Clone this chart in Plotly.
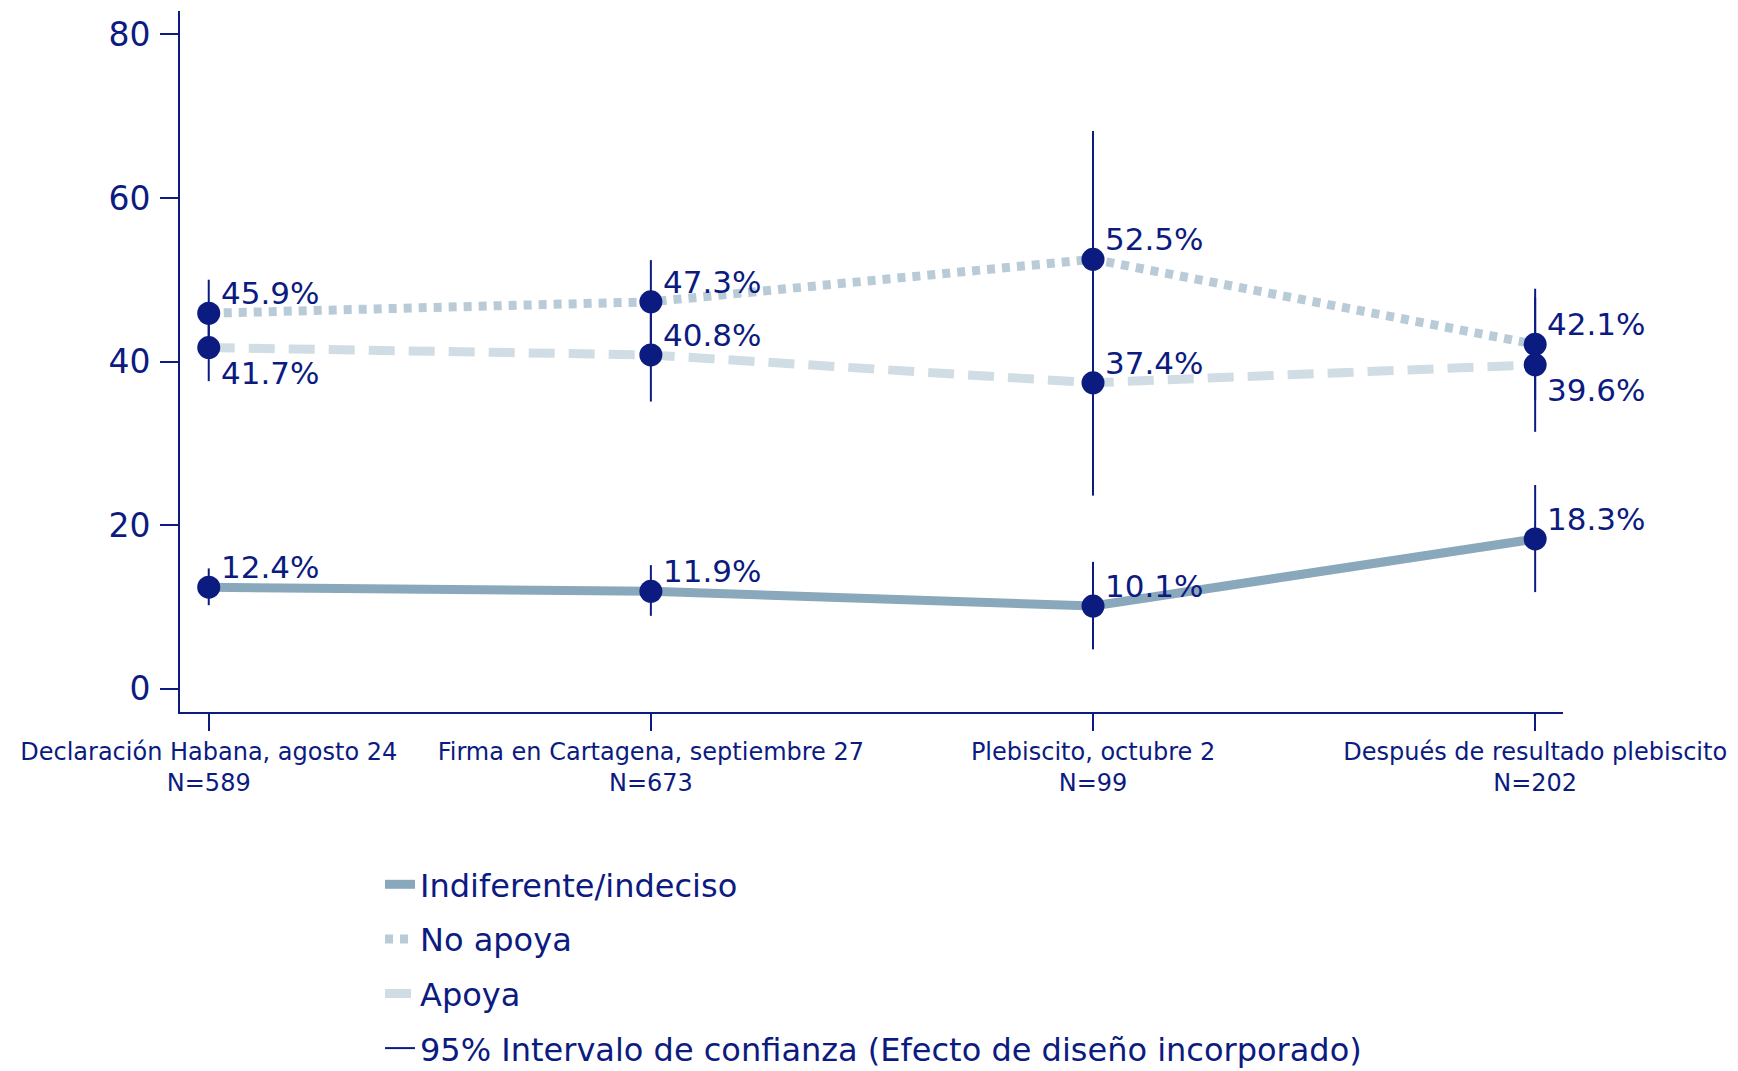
import plotly.graph_objects as go

# ---------------- data ----------------
categories = [
    "Declaración Habana, agosto 24",
    "Firma en Cartagena, septiembre 27",
    "Plebiscito, octubre 2",
    "Después de resultado plebiscito",
]
sample_sizes = [589, 673, 99, 202]

indiferente = [12.4, 11.9, 10.1, 18.3]
indiferente_lo = [10.2, 8.9, 4.8, 11.8]
indiferente_hi = [14.7, 15.1, 15.5, 24.9]

no_apoya = [45.9, 47.3, 52.5, 42.1]
no_apoya_lo = [41.8, 42.2, 36.8, 35.3]
no_apoya_hi = [50.0, 52.4, 68.2, 48.9]

apoya = [41.7, 40.8, 37.4, 39.6]
apoya_lo = [37.6, 35.1, 23.6, 31.4]
apoya_hi = [45.8, 46.5, 51.2, 47.8]

y_ticks = [0, 20, 40, 60, 80]

series_names = ["Indiferente/indeciso", "No apoya", "Apoya"]
ci_name = "95% Intervalo de confianza (Efecto de diseño incorporado)"

# ---------------- style ----------------
NAVY = "#0b1b80"
FONT = "DejaVu Sans"
W, H = 1730, 1063   # page body has an 8px margin

x_pos = list(range(len(categories)))
tick_text = [f"{c}<br>N={n}" for c, n in zip(categories, sample_sizes)]

fig = go.Figure()

line_styles = [
    dict(color="#8aa8bb", width=9, dash="solid"),
    dict(color="#b9cbd7", width=9, dash="8px,7px"),
    dict(color="#d0dde5", width=9, dash="26px,14px"),
]
values = [indiferente, no_apoya, apoya]

for name, vals, ls in zip(series_names, values, line_styles):
    fig.add_trace(go.Scatter(
        x=x_pos, y=vals, mode="lines", name=name, line=ls,
        legendgroup=name, hoverinfo="skip",
    ))

# confidence intervals (vertical segments)
ci_x, ci_y = [], []
for lo_arr, hi_arr in [(indiferente_lo, indiferente_hi), (no_apoya_lo, no_apoya_hi), (apoya_lo, apoya_hi)]:
    for xi, lo, hi in zip(x_pos, lo_arr, hi_arr):
        ci_x += [xi, xi, None]
        ci_y += [lo, hi, None]
fig.add_trace(go.Scatter(
    x=ci_x, y=ci_y, mode="lines", name=ci_name,
    line=dict(color=NAVY, width=2), legendgroup="ci", hoverinfo="skip",
))

# markers
for vals in values:
    fig.add_trace(go.Scatter(
        x=x_pos, y=vals, mode="markers", showlegend=False,
        marker=dict(color=NAVY, size=23, line=dict(width=0)),
    ))

# value labels
annotations = []
for s, vals in enumerate(values):
    for i, v in enumerate(vals):
        below = (s == 2) and (no_apoya[i] - apoya[i] < 5)
        annotations.append(dict(
            x=x_pos[i], y=v, xref="x", yref="y", text=f"{v:.1f}%",
            showarrow=False, xanchor="left", yanchor="middle",
            xshift=10, yshift=(-25 if below else 20),
            font=dict(family=FONT, size=31, color=NAVY),
        ))

fig.update_layout(
    width=W, height=H,
    paper_bgcolor="white", plot_bgcolor="white",
    margin=dict(l=172, r=175, t=3, b=359, autoexpand=False),
    font=dict(family=FONT, color=NAVY),
    annotations=annotations,
    showlegend=True,
    legend=dict(
        xref="container", yref="container",
        x=372 / W, y=1 - 849 / H, xanchor="left", yanchor="top",
        font=dict(family=FONT, size=32, color=NAVY),
        traceorder="grouped", tracegroupgap=10,
        bgcolor="rgba(0,0,0,0)", borderwidth=0,
    ),
    xaxis=dict(
        range=[-0.065, 3.063], tickvals=x_pos, ticktext=tick_text,
        showline=True, linecolor=NAVY, linewidth=2,
        ticks="outside", ticklen=17, tickwidth=2, tickcolor=NAVY,
        showgrid=False, zeroline=False,
        tickfont=dict(family=FONT, size=24, color=NAVY),
        ticklabelstandoff=0,
    ),
    yaxis=dict(
        range=[-2.86, 82.86], tickvals=y_ticks,
        showline=True, linecolor=NAVY, linewidth=2,
        ticks="outside", ticklen=18, tickwidth=2, tickcolor=NAVY,
        showgrid=False, zeroline=False,
        tickfont=dict(family=FONT, size=33, color=NAVY),
        ticklabelstandoff=3,
    ),
)

fig.write_html("out.html")
